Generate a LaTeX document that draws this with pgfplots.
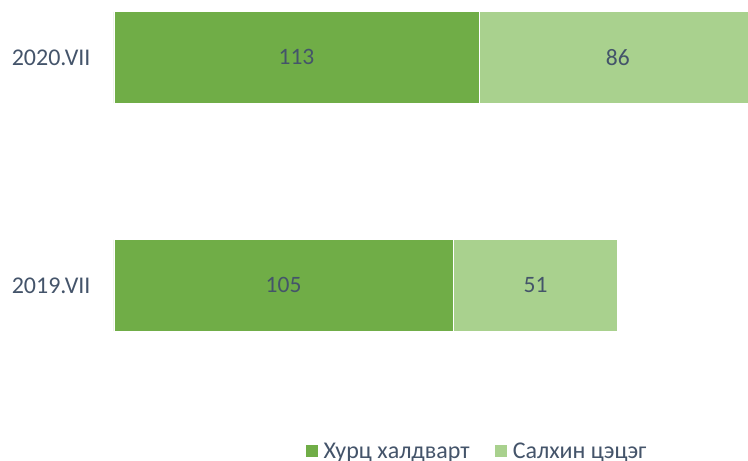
\documentclass[border=0pt]{standalone}
\usepackage{fontspec}
\setmainfont{Carlito}
\usepackage{pgfplots}
\pgfplotsset{compat=1.18}
\definecolor{darkgr}{HTML}{70AD47}
\definecolor{lightgr}{HTML}{A9D18E}
\definecolor{txt}{HTML}{44546A}

\begin{document}
\begin{tikzpicture}
\begin{axis}[
    at={(114pt,0pt)}, anchor=south west,
    scale only axis, width=646pt, height=461pt,
    xbar stacked, bar width=0.4,
    xmin=0, xmax=200, ymin=-0.77, ymax=1.252,
    axis line style={draw=none}, tick style={draw=none},
    xtick=\empty, ytick={0,1}, yticklabels={2019.VII,2020.VII},
    yticklabel style={font=\fontsize{24}{28}\selectfont, text=txt, xshift=-20pt},
    visualization depends on={rawx \as \rawx},
    nodes near coords={\pgfmathprintnumber[assume math mode=true]{\rawx}},
    nodes near coords style={font=\fontsize{23.5}{28}\selectfont, text=txt,
        anchor=center},
    legend style={at={(0.562,0.0215)}, anchor=center, draw=none,
        font=\fontsize{24}{28}\selectfont, text=txt,
        /tikz/every even column/.append style={column sep=23pt}},
    legend columns=2,
    legend image code/.code={\fill[#1, draw=none] (0pt,-6pt) rectangle (12.5pt,6.5pt);
        \path[draw=none, fill=none] (0pt,0pt) -- (16pt,0pt);},
]
\addplot[fill=darkgr, draw=white, line width=0.8pt] coordinates {(105,0) (113,1)};
\addplot[fill=lightgr, draw=white, line width=0.8pt] coordinates {(51,0) (86,1)};
\legend{Хурц халдварт, Салхин цэцэг}
\end{axis}
\pgfresetboundingbox
\useasboundingbox (0,0) rectangle (748pt,461pt);
\end{tikzpicture}
\end{document}
